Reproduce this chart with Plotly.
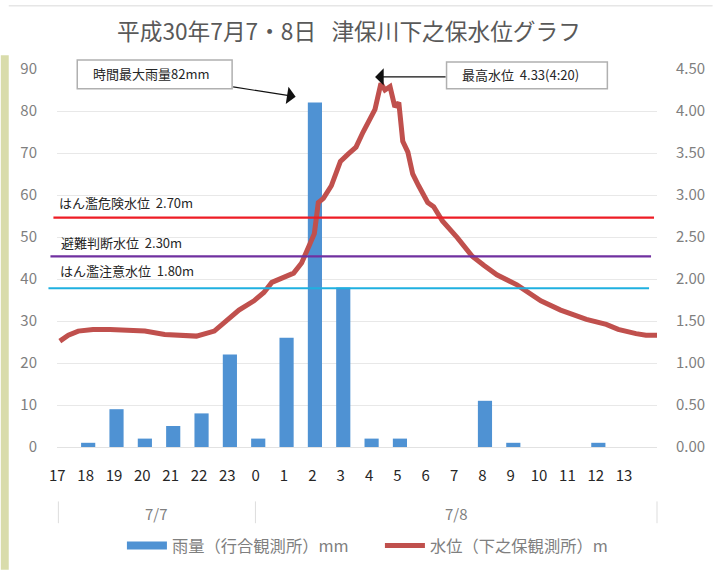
import plotly.graph_objects as go

# ---------- data ----------
hour_labels = ["17","18","19","20","21","22","23","0","1","2","3","4","5","6","7","8","9","10","11","12","13"]
rain_mm = [0,1,9,2,5,8,22,2,26,82,38,2,2,0,0,11,1,0,0,1,0,0]
level_hours = [0,0.3,0.65,1.17,1.77,2.3,3.0,3.7,4.4,4.82,5.45,5.9,6.32,6.85,7.2,7.48,7.9,8.25,8.53,8.77,8.98,
               9.12,9.3,9.58,9.9,10.18,10.45,10.7,11.12,11.33,11.47,11.65,11.82,11.96,12.1,12.28,12.45,12.66,
               12.98,13.19,13.5,14.03,14.55,14.97,15.42,16.13,16.97,17.67,18.58,19.28,19.7,20.33,20.68,21.07]
level_m = [1.26,1.33,1.38,1.40,1.40,1.39,1.38,1.34,1.32,1.32,1.38,1.50,1.63,1.74,1.84,1.96,2.02,2.07,2.19,2.37,2.54,
           2.91,2.96,3.11,3.40,3.49,3.57,3.75,4.02,4.33,4.25,4.29,4.05,4.10,3.64,3.51,3.25,3.11,
           2.91,2.86,2.69,2.49,2.27,2.16,2.05,1.93,1.74,1.63,1.52,1.46,1.40,1.35,1.33,1.33]
threshold_labels = ["はん濫危険水位  2.70m","避難判断水位  2.30m","はん濫注意水位  1.80m"]
threshold_drawn = [2.73,2.27,1.89]
threshold_colors = ["#ee1c25","#7030a0","#1fb0e0"]
rain_name = "雨量（行合観測所）mm"
level_name = "水位（下之保観測所）m"
title_text = "平成30年7月7・8日   津保川下之保水位グラフ"

W, H = 717, 575
L, R, T, B = 56.6, 661, 69, 451
FONT = "Noto Sans CJK JP"
def px(x): return (x - L) / (R - L)
def py(y): return (B - y) / (B - T)

fig = go.Figure()
fig.add_bar(x=list(range(len(rain_mm))), y=rain_mm, width=0.5, marker_color="#4f92d3",
            marker_line_width=0, showlegend=False, yaxis="y")
fig.add_scatter(x=[None], y=[None], mode="lines", name=rain_name,
                line=dict(color="#4f92d3", width=8))
fig.add_scatter(x=level_hours, y=level_m, mode="lines", name=level_name, yaxis="y2",
                line=dict(color="#c0504d", width=5))

shapes = []
# thresholds
spans = [(53,658),(50,655),(48,653)]
for v, c, (a, b) in zip(threshold_drawn, threshold_colors, spans):
    shapes.append(dict(type="line", xref="paper", yref="y2", x0=px(a), x1=px(b), y0=v, y1=v,
                       line=dict(color=c, width=2.2), layer="above"))
# date dividers
for x in (58, 256.5, 661):
    shapes.append(dict(type="line", xref="paper", yref="paper", x0=px(x), x1=px(x), y0=py(506), y1=py(528),
                       line=dict(color="#dddddd", width=1)))
# page surround
shapes.append(dict(type="rect", xref="paper", yref="paper", x0=px(0), x1=px(8), y0=py(575), y1=py(55),
                   fillcolor="#d9dcab", line_width=0, layer="below"))
shapes.append(dict(type="line", xref="paper", yref="paper", x0=px(8), x1=px(717), y0=py(5), y1=py(5),
                   line=dict(color="#e6e6e6", width=1.5), layer="below"))

ann = []
def text(x, y, s, size=13, color="#262626", **kw):
    ann.append(dict(xref="paper", yref="paper", x=px(x), y=py(y), text=s, showarrow=False,
                    yanchor="middle", font=dict(size=size, color=color, family=FONT), **kw))
for s, x, y in zip(threshold_labels, (57, 59, 58), (204, 244, 273)):
    text(x, y, s, xanchor="left")
text(157, 518, "7/7", size=15, color="#7f7f7f", xanchor="center")
text(459, 518, "7/8", size=15, color="#7f7f7f", xanchor="center")

def box(x0, x1, y0, y1, s, tx):
    shapes.append(dict(type="rect", xref="paper", yref="paper", x0=px(x0), x1=px(x1), y0=py(y1), y1=py(y0),
                       fillcolor="white", line=dict(color="#b0b0b0", width=1.5), layer="above"))
    text(tx, (y0 + y1) / 2 - 1, s, xanchor="left")
box(77, 233, 60, 89, "時間最大雨量82mm", 91)
box(449, 611, 62, 89, "最高水位  4.33(4:20)", 463)

def arrow(x0, y0, x1, y1):
    ann.append(dict(xref="paper", yref="paper", x=px(x1), y=py(y1), ax=x0 - x1, ay=y0 - y1,
                    text="", showarrow=True, arrowhead=1,
                    arrowsize=2.4, arrowwidth=1.2, arrowcolor="#111111"))
arrow(233, 87, 297, 97)
arrow(449, 77, 377, 77)

fig.update_layout(
    width=W, height=H, autosize=False,
    margin=dict(l=L, r=W - R, t=T, b=H - B, pad=0),
    paper_bgcolor="white", plot_bgcolor="white",
    font=dict(family=FONT, color="#7f7f7f"),
    title=dict(text=title_text, x=349 / W, xanchor="center", y=1 - 32 / H, yanchor="middle",
               font=dict(size=22.7, color="#595959", family=FONT)),
    bargap=0.5,
    xaxis=dict(range=[-0.1, 21.07], tickmode="array",
               tickvals=[i - 0.09 for i in range(len(hour_labels))], ticktext=hour_labels,
               tickfont=dict(size=15, color="#262626"), ticks="outside", ticklen=15,
               tickcolor="rgba(0,0,0,0)", showgrid=False, zeroline=False,
               showline=True, linecolor="#e2e2e2", linewidth=1),
    yaxis=dict(range=[0, 90], dtick=10, gridcolor="#e8e8e8", gridwidth=1, zeroline=False,
               tickfont=dict(size=15, color="#7f7f7f"), ticks="outside", ticklen=16,
               tickcolor="rgba(0,0,0,0)"),
    yaxis2=dict(range=[0, 4.5], dtick=0.5, tickformat=".2f", overlaying="y", side="right",
                showgrid=False, zeroline=False, tickfont=dict(size=15, color="#7f7f7f"),
                ticks="outside", ticklen=15, tickcolor="rgba(0,0,0,0)"),
    legend=dict(orientation="h", x=px(122), y=py(551), xanchor="left", yanchor="middle",
                font=dict(size=16.3, color="#7f7f7f", family=FONT), itemwidth=40,
                entrywidth=203, entrywidthmode="pixels",
                bgcolor="rgba(0,0,0,0)", traceorder="normal"),
    shapes=shapes, annotations=ann,
)
fig.write_html("out.html", config={"displayModeBar": False},
               post_script="document.body.style.margin='0';window.dispatchEvent(new Event('resize'));")
